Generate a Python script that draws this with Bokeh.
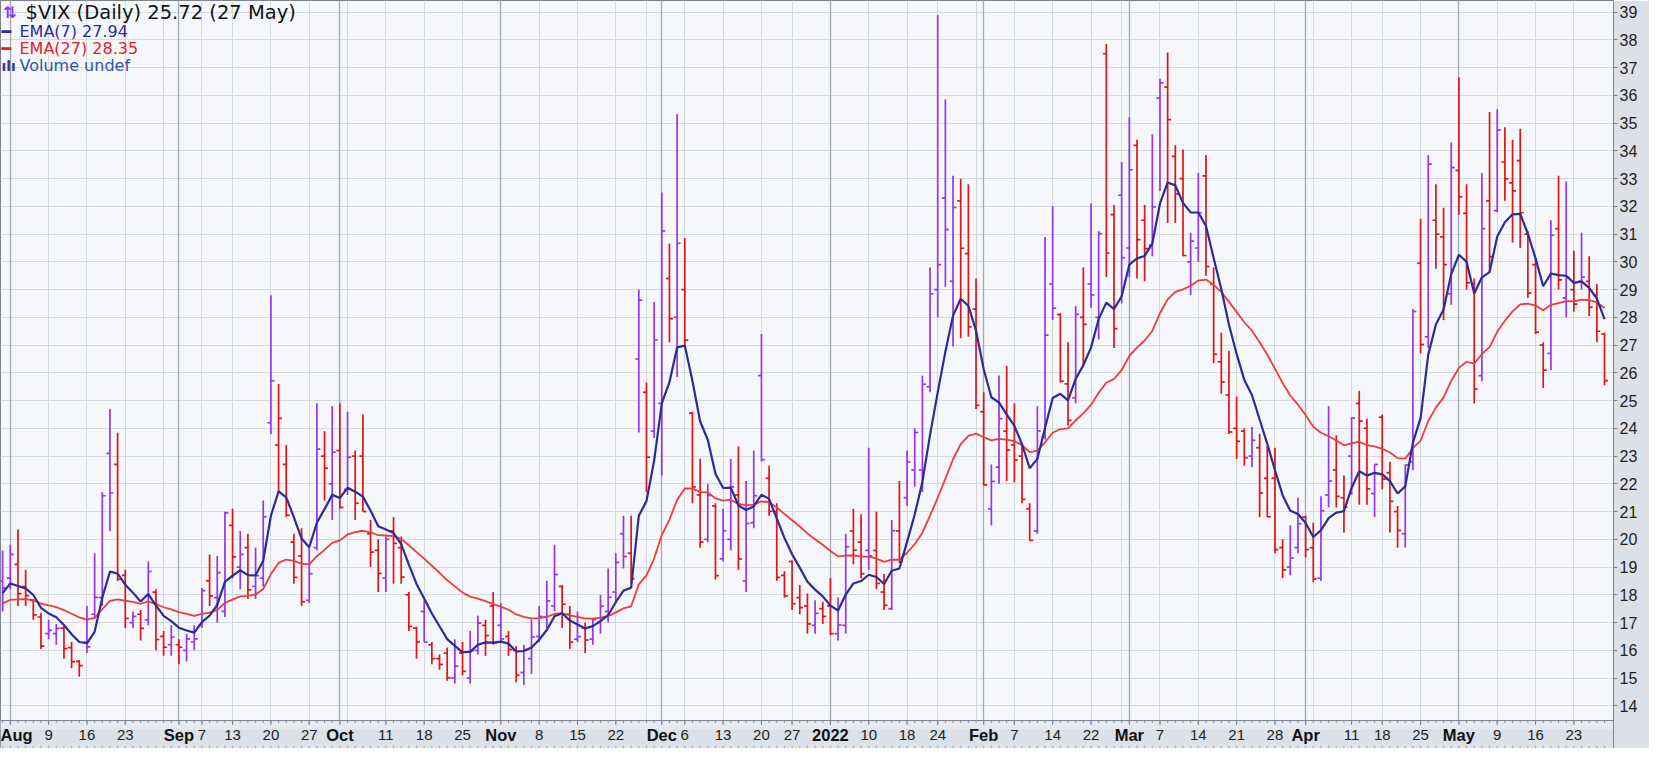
import pandas as pd
from bokeh.plotting import figure
from bokeh.models import ColumnDataSource, FixedTicker, Range1d, Grid, Label, Span
from bokeh.core.properties import value
from bokeh.embed import file_html
from bokeh.resources import INLINE

# ---------------- data ----------------
holidays = ["2021-09-06", "2021-11-25", "2021-12-24", "2022-01-17", "2022-02-21", "2022-04-15"]
dates = [d for d in pd.bdate_range("2021-07-30", "2022-05-27") if d.strftime("%Y-%m-%d") not in holidays]

opens = [
    18.5, 18.6, 19.1, 18.3, 17.8, 17.2, 16.6, 16.6, 16.8, 16.1,
    15.6, 16.3, 17.3, 17.9, 23.1, 22.7, 18.7, 17.0, 17.3, 17.1,
    18.1, 16.5, 16.2, 16.2, 16.0, 16.3, 16.9, 18.5, 17.9, 17.4,
    20.5, 19.0, 19.7, 18.3, 18.6, 24.2, 23.4, 22.7, 19.9, 19.4,
    17.8, 19.7, 23.0, 22.0, 23.2, 21.8, 23.0, 23.0, 20.2, 19.6,
    18.6, 20.3, 19.7, 18.0, 16.8, 17.4, 16.2, 15.7, 15.9, 15.0,
    15.9, 15.0, 16.0, 16.9, 17.6, 16.9, 16.5, 16.0, 15.2, 15.7,
    16.5, 17.2, 17.6, 18.3, 17.3, 16.4, 16.8, 16.4, 17.0, 17.4,
    18.1, 20.2, 19.5, 26.5, 25.3, 23.9, 24.9, 29.4, 28.0, 29.0,
    24.55, 21.6, 20.0, 21.2, 19.3, 20.0, 21.6, 18.5, 20.6, 25.9,
    22.2, 21.0, 18.7, 19.2, 17.9, 17.6, 16.9, 17.5, 17.6, 16.6,
    16.9, 20.3, 19.9, 19.6, 19.6, 18.1, 17.5, 20.3, 21.5, 22.5,
    22.5, 25.5, 29.0, 32.3, 29.3, 32.2, 30.3, 28.3, 24.6, 21.1,
    22.6, 23.9, 23.4, 23.0, 21.1, 20.3, 23.7, 29.2, 28.1, 25.6,
    25.1, 28.0, 29.2, 28.0, 37.5, 31.7, 32.4, 30.5, 34.2, 31.5,
    30.6, 35.9, 36.3, 33.8, 33.0, 30.0, 30.5, 33.1, 29.2, 26.4,
    25.2, 24.0, 23.9, 23.0, 23.3, 22.2, 22.2, 19.7, 19.0, 19.7,
    20.8, 19.7, 18.6, 21.6, 22.5, 21.5, 23.0, 24.9, 24.0, 21.65,
    24.4, 22.4, 21.0, 20.2, 22.8, 29.95, 27.3, 31.5, 30.9, 28.85,
    33.3, 31.75, 29.2, 25.9, 32.2, 31.85, 33.6, 32.85, 33.65, 31.0,
    29.9, 27.0, 26.7, 31.2, 28.7, 29.0, 29.3, 29.3, 28.8, 27.4,
]
highs = [
    19.6, 19.8, 20.35, 18.9, 17.85, 17.35, 17.1, 16.95, 16.95, 16.3,
    15.65, 17.6, 19.5, 21.7, 24.7, 23.84, 18.9, 17.4, 17.45, 19.2,
    18.2, 16.7, 16.9, 16.4, 16.6, 16.9, 18.25, 19.45, 19.4, 21.0,
    21.1, 20.3, 20.2, 19.7, 21.4, 28.8, 25.6, 23.4, 20.2, 20.4,
    19.7, 24.9, 23.9, 24.8, 24.9, 24.6, 23.2, 24.5, 20.7, 20.0,
    20.1, 20.8, 20.1, 18.1, 16.85, 17.8, 16.3, 15.85, 16.1, 16.4,
    16.3, 16.7, 17.25, 17.1, 18.1, 17.7, 16.7, 16.15, 16.2, 17.1,
    17.6, 18.5, 19.8, 18.35, 17.6, 17.4, 17.0, 17.15, 18.0, 18.95,
    19.5, 20.85, 20.85, 29.0, 25.65, 28.55, 32.5, 30.65, 35.33, 30.85,
    24.6, 22.9, 22.0, 21.3, 21.1, 22.9, 23.35, 22.1, 23.2, 27.4,
    22.65, 21.3, 18.85, 19.25, 18.35, 18.05, 17.8, 17.75, 18.6, 17.9,
    20.2, 21.1, 20.9, 23.3, 21.0, 18.75, 20.7, 22.1, 23.2, 24.0,
    25.9, 29.8, 38.9, 35.85, 33.1, 33.0, 32.8, 29.4, 25.3, 22.7,
    25.9, 26.25, 24.9, 23.4, 21.3, 24.8, 30.9, 32.0, 28.15, 27.1,
    28.4, 29.8, 32.1, 31.1, 37.85, 32.05, 33.6, 35.2, 34.4, 32.05,
    34.6, 36.6, 37.55, 34.2, 34.05, 31.05, 33.2, 33.85, 29.8, 27.45,
    26.8, 25.15, 24.0, 24.05, 23.8, 23.35, 23.3, 20.0, 20.5, 21.5,
    20.85, 20.6, 21.55, 24.8, 23.75, 22.3, 24.4, 25.35, 24.35, 22.7,
    24.5, 22.8, 21.2, 22.7, 28.3, 31.55, 33.85, 32.8, 31.95, 34.3,
    36.65, 32.8, 29.4, 33.2, 35.4, 35.5, 34.85, 34.4, 34.8, 31.1,
    30.1, 27.1, 31.5, 33.1, 32.9, 30.4, 31.05, 30.2, 29.2, 27.45,
]
lows = [
    17.4, 18.2, 17.6, 17.6, 17.1, 16.05, 16.4, 16.2, 15.7, 15.35,
    15.05, 15.9, 17.15, 17.6, 20.3, 18.5, 16.8, 16.8, 16.35, 16.9,
    16.0, 15.8, 15.8, 15.5, 15.6, 16.0, 16.8, 17.6, 17.0, 17.2,
    18.6, 18.2, 17.85, 17.85, 18.3, 23.8, 21.7, 20.8, 18.4, 17.6,
    17.7, 19.6, 21.4, 20.7, 21.1, 21.6, 20.7, 21.0, 19.0, 18.1,
    18.1, 18.4, 18.4, 16.7, 15.7, 16.3, 15.5, 15.3, 14.9, 14.8,
    15.1, 14.8, 15.85, 15.8, 16.2, 16.3, 15.8, 14.85, 14.75, 15.15,
    16.3, 16.8, 17.4, 16.8, 16.05, 16.3, 15.9, 16.2, 16.6, 17.0,
    17.7, 18.95, 18.4, 23.85, 21.7, 23.65, 22.3, 27.1, 25.85, 26.95,
    21.3, 19.7, 19.9, 18.55, 19.2, 19.6, 18.9, 18.1, 20.4, 22.8,
    20.85, 18.5, 17.9, 17.45, 17.3, 16.6, 16.6, 16.95, 16.55, 16.35,
    16.6, 19.1, 18.6, 18.9, 18.2, 17.45, 17.45, 19.15, 21.2, 21.9,
    21.7, 25.3, 28.0, 29.1, 26.95, 27.25, 27.3, 24.7, 21.95, 20.5,
    22.0, 22.1, 22.05, 21.3, 19.95, 20.2, 23.6, 27.9, 25.65, 24.1,
    24.9, 26.3, 28.35, 27.2, 29.45, 26.9, 28.5, 29.45, 29.4, 29.3,
    30.2, 32.55, 31.4, 31.4, 30.2, 28.8, 30.0, 29.5, 26.35, 25.25,
    23.8, 22.9, 22.65, 22.6, 20.8, 20.8, 19.5, 18.6, 18.7, 19.5,
    19.35, 18.45, 18.5, 21.15, 21.15, 20.25, 21.6, 21.25, 21.25, 20.8,
    21.8, 20.25, 19.7, 19.7, 22.5, 26.7, 26.9, 29.75, 27.9, 28.45,
    31.7, 29.0, 24.9, 25.7, 29.6, 31.8, 32.2, 30.7, 30.5, 28.7,
    27.4, 25.45, 26.1, 29.0, 28.0, 28.2, 29.0, 28.05, 27.1, 25.55,
]
closes = [
    18.24, 19.46, 18.04, 17.97, 17.28, 16.15, 16.72, 16.79, 16.06, 15.59,
    15.45, 16.12, 17.91, 21.57, 21.67, 18.56, 17.15, 17.22, 16.79, 18.84,
    16.39, 16.11, 16.48, 16.11, 16.41, 16.41, 18.15, 17.96, 18.80, 20.95,
    19.37, 19.46, 18.18, 18.69, 20.81, 25.71, 24.36, 20.87, 18.63, 17.75,
    18.76, 23.25, 22.56, 23.14, 21.15, 22.96, 21.30, 21.00, 19.54, 18.77,
    20.00, 19.85, 18.64, 16.86, 16.30, 16.30, 15.70, 15.49, 15.01, 15.43,
    15.24, 15.98, 16.98, 16.53, 16.26, 16.41, 16.03, 15.10, 16.03, 16.48,
    17.22, 17.78, 18.73, 17.66, 16.29, 16.49, 16.37, 17.11, 17.59, 17.91,
    19.17, 19.38, 18.58, 28.62, 22.96, 27.19, 31.12, 27.95, 30.67, 27.18,
    21.89, 19.90, 21.58, 18.69, 20.31, 21.89, 19.29, 20.57, 21.57, 22.87,
    21.01, 18.63, 17.96, 17.68, 17.54, 16.95, 17.33, 17.22, 16.60, 16.91,
    19.73, 19.61, 18.76, 19.40, 18.41, 17.62, 20.31, 19.19, 22.79, 23.85,
    25.59, 28.85, 29.90, 31.16, 31.96, 30.49, 27.66, 24.83, 21.96, 22.09,
    24.35, 23.22, 22.86, 21.44, 19.96, 23.91, 27.36, 28.33, 25.70, 24.29,
    28.11, 27.75, 28.81, 31.02, 30.32, 27.59, 30.15, 33.32, 30.80, 30.48,
    31.98, 36.45, 35.13, 32.45, 30.23, 30.75, 31.77, 29.83, 26.67, 25.67,
    23.87, 23.53, 22.94, 23.57, 21.67, 20.81, 19.63, 18.90, 19.33, 20.56,
    19.63, 18.57, 21.03, 22.10, 21.55, 21.16, 24.37, 24.26, 21.82, 22.70,
    22.17, 21.37, 20.32, 22.68, 28.21, 27.02, 33.52, 31.00, 29.90, 33.40,
    32.34, 29.25, 25.42, 31.20, 30.19, 34.75, 32.99, 32.56, 31.77, 28.87,
    27.47, 26.10, 30.96, 29.35, 29.43, 28.48, 29.45, 28.37, 27.50, 25.72,
]
prev_close = 17.70                    # close before the first bar (first bar's colour)
ema7_seed, ema27_seed = 18.0, 17.65   # indicator levels at the left edge

week_label_dates = ["2021-08-09", "2021-08-16", "2021-08-23", "2021-09-07", "2021-09-13",
                    "2021-09-20", "2021-09-27", "2021-10-11", "2021-10-18", "2021-10-25",
                    "2021-11-08", "2021-11-15", "2021-11-22", "2021-12-06", "2021-12-13",
                    "2021-12-20", "2021-12-27", "2022-01-10", "2022-01-18", "2022-01-24",
                    "2022-02-07", "2022-02-14", "2022-02-22", "2022-03-07", "2022-03-14",
                    "2022-03-21", "2022-03-28", "2022-04-11", "2022-04-18", "2022-04-25",
                    "2022-05-09", "2022-05-16", "2022-05-23"]
month_label_dates = ["2021-08-02", "2021-09-01", "2021-10-01", "2021-11-01", "2021-12-01",
                     "2022-01-03", "2022-02-01", "2022-03-01", "2022-04-01", "2022-05-02"]
month_labels = ["Aug", "Sep", "Oct", "Nov", "Dec", "2022", "Feb", "Mar", "Apr", "May"]
y_ticks = list(range(14, 40))

# ---------------- derived ----------------
date_str = [d.strftime("%Y-%m-%d") for d in dates]
idx = {s: i for i, s in enumerate(date_str)}
xs = list(range(len(dates)))

def ema(vals, n, seed):
    k = 2.0 / (n + 1)
    out, prev = [], seed
    for v in vals:
        prev = prev + k * (v - prev)
        out.append(prev)
    return out

ema7 = ema(closes, 7, ema7_seed)
ema27 = ema(closes, 27, ema27_seed)

UP, DOWN = "#9436EE", "#E01414"
colors = []
pc = prev_close
for c in closes:
    colors.append(UP if c >= pc else DOWN)
    pc = c

week_pos = [i for i in range(1, len(dates)) if dates[i].weekday() < dates[i - 1].weekday()]
month_pos = [i for i in range(1, len(dates)) if dates[i].month != dates[i - 1].month]
day_pos = [idx[s] for s in week_label_dates]
day_txt = [str(int(s[-2:])) for s in week_label_dates]
mon_pos = [idx[s] for s in month_label_dates]

# ---------------- geometry ----------------
X0, X1 = -0.28, 210.17
Y_TOP, Y_DATA_BOT = 39.42, 13.47
DATA_H = 720                       # px used by the price area
BAND_H = 28                        # px of the date band under it
PX = DATA_H / (Y_TOP - Y_DATA_BOT) # px per unit
Y_BOT = Y_DATA_BOT - BAND_H / PX
FW, FH = 1613, DATA_H + BAND_H

p = figure(frame_width=FW, frame_height=FH,
           x_range=Range1d(X0, X1), y_range=Range1d(Y_BOT, Y_TOP),
           y_axis_location="right", x_axis_location=None,
           output_backend="svg", toolbar_location=None,
           min_border_left=0, min_border_top=0, min_border_right=36, min_border_bottom=0,
           background_fill_color="#F5F7FB", border_fill_color="#DDE1E7",
           outline_line_color="#7D838E")

# grids
p.xgrid.ticker = FixedTicker(ticks=week_pos)
p.xgrid.grid_line_color = "#D4D8DF"
p.ygrid.ticker = FixedTicker(ticks=y_ticks)
p.ygrid.grid_line_color = "#D4D8DF"
p.add_layout(Grid(dimension=0, ticker=FixedTicker(ticks=month_pos),
                  grid_line_color="#A3A8B1", grid_line_width=1.3))

# y axis (right)
ya = p.yaxis[0]
ya.ticker = FixedTicker(ticks=y_ticks)
ya.major_label_text_font = "Liberation Sans"
ya.major_label_text_font_size = "16px"
ya.major_label_text_color = "#1E1E1E"
ya.major_tick_in = 0
ya.major_tick_out = 4
ya.minor_tick_line_color = None
ya.major_label_standoff = 2
ya.axis_line_color = "#7D838E"
ya.major_tick_line_color = "#7D838E"

# OHLC bars
src = ColumnDataSource(dict(x=xs, o=opens, h=highs, l=lows, c=closes,
                            xl=[x - 0.45 for x in xs], xr=[x + 0.45 for x in xs], col=colors))
p.segment(x0="x", y0="l", x1="x", y1="h", line_color="col", line_width=1.7, source=src)
p.segment(x0="xl", y0="o", x1="x", y1="o", line_color="col", line_width=1.7, source=src)
p.segment(x0="x", y0="c", x1="xr", y1="c", line_color="col", line_width=1.7, source=src)

# EMA lines
p.line(xs, ema27, line_color="#EE3C3C", line_width=1.8)
p.line(xs, ema7, line_color="#2C2C96", line_width=2.2)

# ---- date band (drawn inside the frame so month names can be bold) ----
p.quad(left=[X0], right=[X1], bottom=[Y_BOT], top=[Y_DATA_BOT],
       fill_color="#DCE0E7", line_color=None)
p.quad(left=[X0], right=[X1], bottom=[Y_DATA_BOT - 9 / PX], top=[Y_DATA_BOT],
       fill_color="#E6E9EE", line_color=None)
p.add_layout(Span(location=Y_DATA_BOT, dimension="width", line_color="#7D838E", line_width=1))
p.segment(x0=xs, x1=xs, y0=[Y_DATA_BOT] * len(xs), y1=[Y_DATA_BOT - 2.5 / PX] * len(xs),
          line_color="#8A909A", line_width=1)
p.segment(x0=day_pos + mon_pos, x1=day_pos + mon_pos,
          y0=[Y_DATA_BOT] * (len(day_pos) + len(mon_pos)),
          y1=[Y_DATA_BOT - 4.5 / PX] * (len(day_pos) + len(mon_pos)),
          line_color="#7D838E", line_width=1)
p.segment(x0=xs, x1=xs, y0=[Y_BOT] * len(xs), y1=[Y_BOT + 2.5 / PX] * len(xs),
          line_color="#9AA0A8", line_width=1)

y_lab = Y_DATA_BOT - 14.5 / PX
p.text(x=day_pos, y=[y_lab] * len(day_pos), text=day_txt,
       text_align="center", text_baseline="middle",
       text_font=value("Liberation Sans"), text_font_size="15px", text_color="#1E1E1E")
p.text(x=mon_pos[1:], y=[y_lab] * (len(mon_pos) - 1), text=month_labels[1:],
       text_align="center", text_baseline="middle",
       text_font=value("Liberation Sans"), text_font_style="bold",
       text_font_size="16.5px", text_color="#111111")
p.text(x=[X0], y=[y_lab], text=month_labels[:1],
       text_align="left", text_baseline="middle",
       text_font=value("Liberation Sans"), text_font_style="bold",
       text_font_size="16.5px", text_color="#111111")

# legend texts (top left)
def lab(x, ytop, text, color, size, style="normal"):
    p.add_layout(Label(x=x, y=FH - ytop, x_units="screen", y_units="screen", text=text,
                       text_color=color, text_font_size=size, text_font="DejaVu Sans",
                       text_font_style=style, text_baseline="middle"))

lab(3, 12, "⇅", UP, "16px", "bold")
lab(25, 12, "$VIX (Daily) 25.72 (27 May)", "#141414", "19.5px")
lab(1, 31, "━", "#2C2C96", "16px")
lab(19, 31, "EMA(7) 27.94", "#2C2C96", "16px")
lab(1, 48, "━", "#E82020", "16px")
lab(19, 48, "EMA(27) 28.35", "#E82020", "16px")
lab(1, 65, "ılı", "#2C3E8C", "14px", "bold")
lab(19, 65, "Volume undef", "#2E56A8", "16px")

open("out.html", "w").write(file_html(p, INLINE))
